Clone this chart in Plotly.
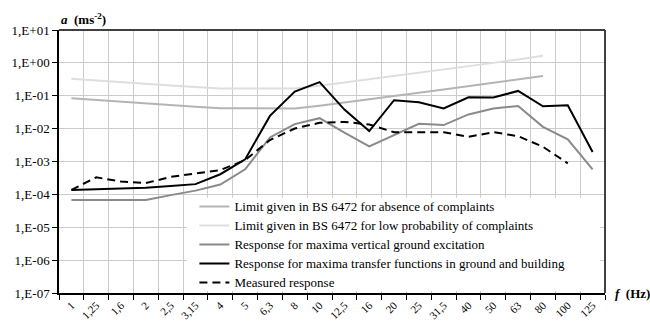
import plotly.graph_objects as go

freqs = ["1", "1,25", "1,6", "2", "2,5", "3,15", "4", "5", "6,3", "8", "10", "12,5",
         "16", "20", "25", "31,5", "40", "50", "63", "80", "100", "125"]

limit_absence = [0.084, 0.074, 0.065, 0.058, 0.051, 0.046, 0.042, 0.041, 0.041, 0.041, 0.050,
                 0.062, 0.079, 0.098, 0.123, 0.155, 0.195, 0.245, 0.31, 0.40, None, None]
limit_low = [0.33, 0.29, 0.26, 0.23, 0.205, 0.183, 0.167, 0.165, 0.165, 0.165, 0.20,
             0.25, 0.32, 0.40, 0.50, 0.63, 0.80, 1.00, 1.27, 1.65, None, None]
resp_ground = [6.7e-5, 6.7e-5, 6.7e-5, 6.7e-5, 9.5e-5, 1.3e-4, 2.0e-4, 5.8e-4, 5.4e-3, 0.0137,
               0.0208, 0.0075, 0.0029, 0.0065, 0.014, 0.0128, 0.027, 0.041, 0.049, 0.0113,
               0.0047, 5.8e-4]
resp_transfer = [1.37e-4, 1.45e-4, 1.53e-4, 1.6e-4, 1.8e-4, 2.05e-4, 4.1e-4, 1.16e-3, 0.0244,
                 0.134, 0.26, 0.038, 0.0084, 0.073, 0.0636, 0.041, 0.090, 0.088, 0.14, 0.048,
                 0.0515, 0.00194]
measured = [1.37e-4, 3.3e-4, 2.45e-4, 2.2e-4, 3.4e-4, 4.3e-4, 5.5e-4, 1.1e-3, 4.5e-3, 0.0101,
            0.015, 0.016, 0.0134, 0.0078, 0.0078, 0.0078, 0.0056, 0.0078, 0.0059, 0.0028,
            8.8e-4, None]

y_tickvals = [1e-7, 1e-6, 1e-5, 1e-4, 1e-3, 1e-2, 1e-1, 1e0, 1e1]
y_ticktext = ["1,E-07", "1,E-06", "1,E-05", "1,E-04", "1,E-03", "1,E-02", "1,E-01", "1,E+00", "1,E+01"]

names = [
    "Limit given in BS 6472 for absence of complaints",
    "Limit given in BS 6472 for low probability of complaints",
    "Response for maxima vertical ground excitation",
    "Response for maxima transfer functions in ground and building",
    "Measured response",
]

FONT = "Liberation Serif"

fig = go.Figure()
series = [
    (limit_absence, "#b4b4b4", "solid", 2),
    (limit_low, "#dedede", "solid", 2),
    (resp_ground, "#8a8a8a", "solid", 2),
    (resp_transfer, "#000000", "solid", 2),
    (measured, "#000000", "dash", 2),
]
for (vals, col, dash, w), nm in zip(series, names):
    fig.add_trace(go.Scatter(
        x=freqs, y=vals, mode="lines",
        name='<span style="font-size:13px">' + nm + "</span>",
        line=dict(color=col, width=w, dash=dash if dash == "solid" else "8px,5px"),
        connectgaps=False,
    ))

fig.update_layout(
    width=650, height=325,
    margin=dict(l=59, r=45, t=29.5, b=31.5, autoexpand=False),
    paper_bgcolor="white", plot_bgcolor="white",
    font=dict(family=FONT, size=13, color="black"),
    showlegend=True,
    legend=dict(
        x=0.248, y=0.384, xanchor="left", yanchor="top",
        bgcolor="rgba(255,255,255,0)", borderwidth=0,
        font=dict(family=FONT, size=11.8, color="black"),
        tracegroupgap=0, itemwidth=30,
    ),
    xaxis=dict(
        type="category", categoryorder="array", categoryarray=freqs,
        range=[-0.5, len(freqs) - 0.5],
        tickson="boundaries", ticks="outside", ticklen=5, tickcolor="black",
        showgrid=True, gridcolor="#cccccc", gridwidth=1,
        showline=True, linecolor="black", linewidth=1.5,
        tickangle=-45, tickfont=dict(family=FONT, size=11, color="black"),
        zeroline=False, automargin=False,
    ),
    yaxis=dict(
        type="log", range=[-7, 1],
        tickvals=y_tickvals, ticktext=y_ticktext,
        ticks="outside", ticklen=5, tickcolor="black",
        showgrid=True, gridcolor="#cccccc", gridwidth=1,
        showline=True, linecolor="black", linewidth=1.5,
        tickfont=dict(family=FONT, size=13, color="black"),
        zeroline=False, automargin=False,
    ),
    shapes=[
        # white legend background covering the grid inside the plot area
        dict(type="rect", xref="paper", yref="paper", x0=0.2344, x1=0.991,
             y0=0.008, y1=0.362, layer="above",
             fillcolor="white", line=dict(width=0)),
        dict(type="line", xref="paper", yref="paper", x0=0, x1=1, y0=1, y1=1,
             line=dict(color="#404040", width=2)),
        dict(type="line", xref="paper", yref="paper", x0=1, x1=1, y0=0, y1=1,
             line=dict(color="#404040", width=2)),
    ],
    annotations=[
        dict(xref="paper", yref="paper", x=-0.0, y=1.0, xanchor="left", yanchor="bottom",
             yshift=1, showarrow=False,
             text="<b><i>a</i></b>  <b>(ms<sup>-2</sup>)</b>",
             font=dict(family=FONT, size=13, color="black")),
        dict(xref="paper", yref="paper", x=1.0, y=0.0, xanchor="left", yanchor="middle",
             xshift=8, showarrow=False,
             text="<b><i>f</i></b>  <b>(Hz)</b>",
             font=dict(family=FONT, size=13, color="black")),
    ],
)

fig.write_html("out.html")
